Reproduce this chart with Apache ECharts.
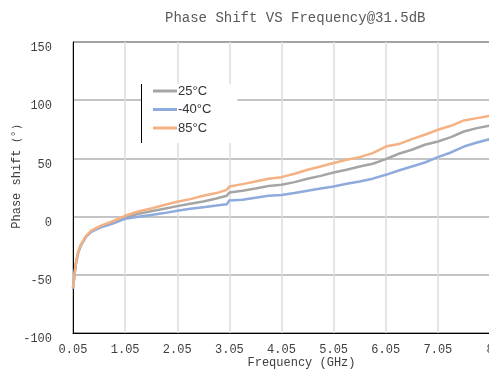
<!DOCTYPE html>
<html>
<head>
<meta charset="utf-8">
<script src="https://cdn.jsdelivr.net/npm/echarts@6/dist/echarts.min.js"></script>
<style>html,body{margin:0;padding:0;background:#fff}#c{width:489px;height:376px}</style>
</head>
<body>
<div id="c"></div>
<script>
// Frequency (GHz)
const freq = [0.05,0.1,0.15,0.2,0.3,0.4,0.5,0.6,0.8,1.05,1.3,1.55,1.8,2.05,2.3,2.55,2.8,3.0,3.05,3.3,3.55,3.8,4.05,4.3,4.55,4.8,5.05,5.3,5.55,5.8,6.05,6.3,6.55,6.8,7.05,7.3,7.55,7.8,8.05];
// Phase shift (deg)
const phase25 = [-61,-41.5,-30.5,-24.5,-17,-12.6,-10.2,-8.3,-5.2,-0.8,2.4,4.6,6.7,9,11,13,15.6,17.9,20.7,22.2,24.1,26.3,27.3,29.6,32.5,35,37.9,40.2,43,45.4,49.4,54,57.4,61.7,64.5,68.3,73.1,76,78.3];
const phaseM40 = [-62,-42,-31,-25,-17.5,-13.2,-11,-9,-6.2,-1.9,-0.2,1.4,3.0,5,6.7,8.1,9.5,10.7,13.8,14.4,16.2,18,18.5,20.2,22.2,24.1,25.9,28.2,30.2,32.6,35.9,39.6,43,46.5,51.1,55.1,60.2,63.7,66.6];
const phase85 = [-61,-41,-30,-24,-16.5,-12,-9.6,-7.6,-4.2,0.7,4.4,7.0,9.9,12.8,15,17.9,20.2,23,25.9,27.9,30.2,32.5,33.9,36.8,40.2,43,46,48.8,51.1,54.5,60.2,62.3,66.6,70.3,74.6,78,82.6,84.6,86.6];
const seriesNames = ['25°C','-40°C','85°C'];
const xTickLabels = ['0.05','1.05','2.05','3.05','4.05','5.05','6.05','7.05','8'];
const yTicks = {min:-100, max:150, interval:50};

const F0 = 0.05;
function pts(arr){ return freq.map((f,i)=>[f-F0, arr[i]]); }

const mono = 'Liberation Mono';
const chart = echarts.init(document.getElementById('c'), null, {renderer:'canvas'});
chart.setOption({
  animation:false,
  title:{text:'Phase Shift VS Frequency@31.5dB', left:160, top:6,
    textStyle:{fontFamily:mono, fontSize:14, fontWeight:'normal', color:'#595959'}},
  grid:{left:73, width:417, top:42, height:291, show:true, borderColor:'#000', borderWidth:1,
    containLabel:false, outerBoundsMode:'none'},
  legend:{orient:'vertical', left:141, top:84, padding:[0,26,8,12], itemGap:4.5,
    itemWidth:24, itemHeight:3, backgroundColor:'#fff', icon:'rect',
    textStyle:{fontFamily:'Liberation Sans', fontSize:13, color:'#333', lineHeight:14, padding:[0,0,0,-4]}},
  graphic:[{type:'line', shape:{x1:141.5,y1:84,x2:141.5,y2:143}, style:{stroke:'#000', lineWidth:1}, z:100}],
  xAxis:{type:'value', min:0, max:8, interval:1,
    name:'Frequency (GHz)', nameLocation:'middle', nameGap:24, nameMoveOverlap:false,
    nameTextStyle:{fontFamily:mono, fontSize:12, color:'#404040', padding:[0,0,0,40]},
    axisLine:{onZero:false, lineStyle:{color:'#000', width:1}}, axisTick:{show:false},
    axisLabel:{fontFamily:mono, fontSize:12, color:'#404040', margin:11,
      formatter:(v)=>xTickLabels[Math.round(v)]},
    splitLine:{show:true, lineStyle:{color:'#dcdcdc', width:1.5}}},
  yAxis:{type:'value', min:yTicks.min, max:yTicks.max, interval:yTicks.interval,
    name:'Phase shift（°）', nameLocation:'middle', nameGap:50, nameMoveOverlap:false,
    nameTextStyle:{fontFamily:mono, fontSize:12, color:'#404040', padding:[0,0,0,28]},
    axisLine:{show:true, onZero:false, lineStyle:{color:'#000', width:1}}, axisTick:{show:false},
    axisLabel:{fontFamily:mono, fontSize:12, color:'#404040', margin:21, verticalAlign:'top'},
    splitLine:{show:true, lineStyle:{color:'#b0b0b0', width:1.5}}},
  series:[
    {name:seriesNames[0], type:'line', data:pts(phase25), showSymbol:false, lineStyle:{color:'#a5a5a5', width:2.5}, itemStyle:{color:'#a5a5a5'}},
    {name:seriesNames[1], type:'line', data:pts(phaseM40), showSymbol:false, lineStyle:{color:'#8faadc', width:2.5}, itemStyle:{color:'#8faadc'}},
    {name:seriesNames[2], type:'line', data:pts(phase85), showSymbol:false, lineStyle:{color:'#f4b183', width:2.5}, itemStyle:{color:'#f4b183'}}
  ]
});
</script>
</body>
</html>
